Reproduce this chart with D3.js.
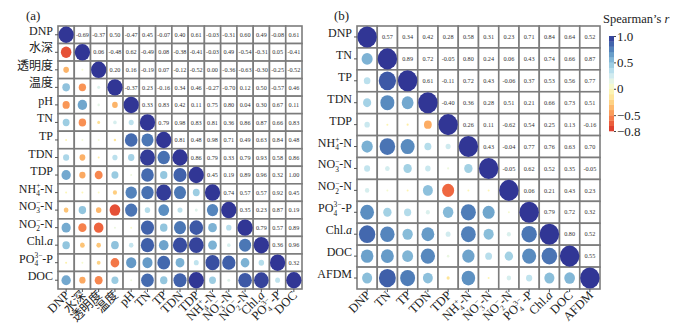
<!DOCTYPE html>
<html><head><meta charset="utf-8">
<script src="https://cdn.jsdelivr.net/npm/d3@7"></script>
<style>body{margin:0;background:#fff}svg{display:block}</style>
</head><body><svg id="c" width="694" height="327"></svg>
<script>
// ---------- data ----------
const labelsA = ["DNP","水深","透明度","温度","pH","TN","TP","TDN","TDP","NH_{4}^{+}-N","NO_{3}^{−}-N","NO_{2}^{−}-N","Chl.*a*","PO_{4}^{3−}-P","DOC"];
// upper triangle, row i: values for columns i+1 .. n-1
const upperA = [
 [-0.69,-0.37,0.50,-0.47,0.45,-0.07,0.40,0.61,-0.03,-0.31,0.60,0.49,-0.08,0.61],
 [0.06,-0.48,0.62,-0.49,0.08,-0.38,-0.41,-0.03,0.49,-0.54,-0.31,0.05,-0.41],
 [0.20,0.16,-0.19,0.07,-0.12,-0.52,0.00,-0.36,-0.63,-0.30,-0.25,-0.52],
 [-0.37,0.23,-0.16,0.34,0.46,-0.27,-0.70,0.12,0.50,-0.57,0.46],
 [0.33,0.83,0.42,0.11,0.75,0.80,0.04,0.30,0.67,0.11],
 [0.79,0.98,0.83,0.81,0.36,0.86,0.87,0.66,0.83],
 [0.81,0.48,0.98,0.71,0.49,0.63,0.84,0.48],
 [0.86,0.79,0.33,0.79,0.93,0.58,0.86],
 [0.45,0.19,0.89,0.96,0.32,1.00],
 [0.74,0.57,0.57,0.92,0.45],
 [0.35,0.23,0.87,0.19],
 [0.79,0.57,0.89],
 [0.36,0.96],
 [0.32]
];
const labelsB = ["DNP","TN","TP","TDN","TDP","NH_{4}^{+}-N","NO_{3}^{−}-N","NO_{2}^{−}-N","PO_{4}^{3−}-P","Chl.*a*","DOC","AFDM"];
const upperB = [
 [0.57,0.34,0.42,0.28,0.58,0.31,0.23,0.71,0.84,0.64,0.52],
 [0.89,0.72,-0.05,0.80,0.24,0.06,0.43,0.74,0.66,0.87],
 [0.61,-0.11,0.72,0.43,-0.06,0.37,0.53,0.56,0.77],
 [-0.40,0.36,0.28,0.51,0.21,0.66,0.73,0.51],
 [0.26,0.11,-0.62,0.54,0.25,0.13,-0.16],
 [0.43,-0.04,0.77,0.76,0.63,0.70],
 [-0.05,0.62,0.52,0.35,-0.05],
 [0.06,0.21,0.43,0.23],
 [0.79,0.72,0.32],
 [0.80,0.52],
 [0.55]
];
const legendTicks = [1.0, 0.5, 0, -0.5, -0.8];
const legendDomain = [-0.8, 1.0];
const panelTitles = ["(a)", "(b)"];
const legendTitle = "Spearman’s ";

// ---------- helpers ----------
const svg = d3.select("#c");
const FONT = "'Liberation Serif','Times New Roman','Noto Sans CJK SC',serif";
const color = r => d3.interpolateRdYlBu((1 + r) / 2);

function fullMatrix(n, upper) {
  const m = d3.range(n).map(() => new Array(n).fill(1));
  for (let i = 0; i < n; i++)
    for (let j = i + 1; j < n; j++) { m[i][j] = upper[i][j - i - 1]; m[j][i] = m[i][j]; }
  return m;
}

function richText(textSel, str, fs) {
  textSel.text(null);
  const re = /_\{([^}]*)\}\^\{([^}]*)\}|_\{([^}]*)\}|\^\{([^}]*)\}|\*([^*]*)\*|([^_^*]+)/g;
  let m, shift = 0;
  const small = fs * 0.62;
  while ((m = re.exec(str)) !== null) {
    if (m[1] !== undefined) {
      const sb = textSel.append("tspan").attr("font-size", small).attr("dy", fs * 0.28 - shift).text(m[1]);
      const w = sb.node().getComputedTextLength();
      textSel.append("tspan").attr("font-size", small).attr("dx", -w).attr("dy", -fs * 0.68).text(m[2]);
      shift = fs * 0.28 - fs * 0.68;
    } else if (m[3] !== undefined) {
      textSel.append("tspan").attr("font-size", small).attr("dy", fs * 0.28 - shift).text(m[3]);
      shift = fs * 0.28;
    } else if (m[4] !== undefined) {
      textSel.append("tspan").attr("font-size", small).attr("dy", -fs * 0.4 - shift).text(m[4]);
      shift = -fs * 0.4;
    } else if (m[5] !== undefined) {
      textSel.append("tspan").attr("font-style", "italic").attr("dy", -shift).text(m[5]);
      shift = 0;
    } else {
      textSel.append("tspan").attr("dy", -shift).text(m[6]);
      shift = 0;
    }
  }
}

function panel(cfg) {
  const { labels, upper, x0, x1, y0, y1, numFs, rFac, title, titleX } = cfg;
  const n = labels.length;
  const M = fullMatrix(n, upper);
  const x = d3.scaleBand().domain(labels).range([x0, x1]);
  const y = d3.scaleBand().domain(labels).range([y0, y1]);
  const cw = x.bandwidth(), ch = y.bandwidth();
  const g = svg.append("g");
  const cells = [];
  for (let i = 0; i < n; i++) for (let j = 0; j < n; j++) cells.push({ i, j, v: M[i][j] });

  g.selectAll("rect.cell").data(cells).join("rect")
    .attr("x", d => x(labels[d.j])).attr("y", d => y(labels[d.i]))
    .attr("width", cw).attr("height", ch)
    .attr("fill", "#fff").attr("stroke", "#7c7c7c").attr("stroke-width", 1.6);

  g.selectAll("ellipse").data(cells.filter(d => d.j <= d.i)).join("ellipse")
    .attr("cx", d => x(labels[d.j]) + cw / 2).attr("cy", d => y(labels[d.i]) + ch / 2)
    .attr("rx", d => Math.max(1, Math.abs(d.v) * cw * rFac))
    .attr("ry", d => Math.max(1, Math.abs(d.v) * ch * rFac))
    .attr("fill", d => color(d.v));

  g.selectAll("text.num").data(cells.filter(d => d.j > d.i)).join("text")
    .attr("x", d => x(labels[d.j]) + cw / 2).attr("y", d => y(labels[d.i]) + ch / 2)
    .attr("dy", "0.35em").attr("text-anchor", "middle")
    .attr("font-family", FONT).attr("font-size", numFs).attr("fill", "#333")
    .text(d => d.v.toFixed(2));

  // y axis
  const ya = g.append("g").attr("transform", `translate(${x0},0)`)
    .call(d3.axisLeft(y).tickSize(3).tickPadding(2));
  ya.select(".domain").remove();
  ya.selectAll(".tick line").attr("stroke", "#555");
  ya.selectAll(".tick text").attr("font-family", FONT).attr("font-size", 12).attr("fill", "#222")
    .each(function (d) { richText(d3.select(this), d, 12); });

  // x axis
  const xa = g.append("g").attr("transform", `translate(0,${y1})`)
    .call(d3.axisBottom(x).tickSize(3));
  xa.select(".domain").remove();
  xa.selectAll(".tick line").attr("stroke", "#555");
  xa.selectAll(".tick text").attr("font-family", FONT).attr("font-size", 12.5).attr("fill", "#222")
    .attr("text-anchor", "end").attr("x", 0).attr("y", 0).attr("dy", "0.35em")
    .attr("transform", "translate(4,7) rotate(-45)")
    .each(function (d) { richText(d3.select(this), d, 12.5); });

  svg.append("text").attr("x", titleX).attr("y", 20).attr("font-family", FONT)
    .attr("font-size", 13).attr("fill", "#222").text(title);
}

panel({ labels: labelsA, upper: upperA, x0: 58, x1: 302, y0: 26, y1: 289, numFs: 6.2, rFac: 0.47, title: panelTitles[0], titleX: 26 });
panel({ labels: labelsB, upper: upperB, x0: 357, x1: 600, y0: 26, y1: 289, numFs: 6.2, rFac: 0.48, title: panelTitles[1], titleX: 334 });

// ---------- legend ----------
const ly = d3.scaleLinear().domain(legendDomain).range([131, 36]);
const lg = svg.append("g");
const bands = d3.range(-0.8, 1.0001 - 0.1, 0.1).map(v => +v.toFixed(2));
lg.selectAll("rect").data(bands).join("rect")
  .attr("x", 609).attr("width", 5)
  .attr("y", d => ly(d + 0.1)).attr("height", d => ly(d) - ly(d + 0.1) + 0.3)
  .attr("fill", d => color(d + 0.05));
const la = lg.append("g").attr("transform", "translate(614,0)")
  .call(d3.axisRight(ly).tickValues(legendTicks).tickSize(2).tickPadding(1)
    .tickFormat(d => d === 0 ? "0" : (d < 0 ? "−" : "") + Math.abs(d).toFixed(1)));
la.select(".domain").remove();
la.selectAll(".tick line").attr("stroke", "#444");
la.selectAll(".tick text").attr("font-family", FONT).attr("font-size", 13).attr("fill", "#222");
const lt = svg.append("text").attr("x", 603).attr("y", 23).attr("font-family", FONT)
  .attr("font-size", 12.5).attr("fill", "#222").text(legendTitle);
lt.append("tspan").attr("font-style", "italic").text("r");
</script></body></html>
